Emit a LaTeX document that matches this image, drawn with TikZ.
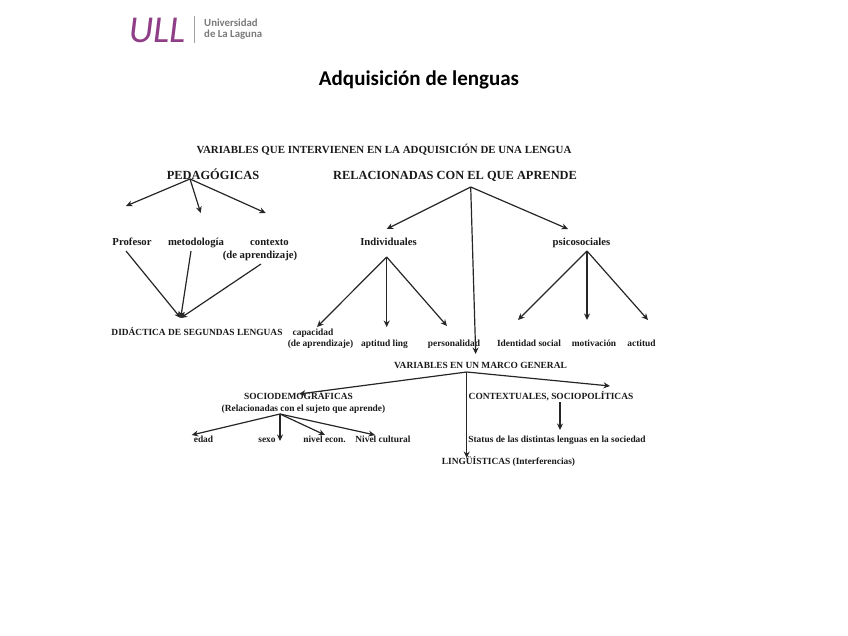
\documentclass[tikz,border=0pt]{standalone}
\usepackage{fontspec}
\setmainfont{Liberation Serif}
\newfontfamily\logofont{Carlito}
\usetikzlibrary{arrows.meta}
\definecolor{ullcolor}{HTML}{8E3F87}
\definecolor{greytext}{HTML}{7A7A7A}

\begin{document}
\begin{tikzpicture}[
    x=1pt, y=-1pt,
    word/.style={inner sep=0pt, text height=8.5pt, text depth=2pt, font=\fontsize{9.4}{11}\selectfont\bfseries, text=black!90},
    bigword/.style={word, font=\fontsize{10.7}{12}\selectfont\bfseries},
    head/.style={inner sep=0pt, text height=10pt, text depth=2pt, font=\fontsize{12.4}{14}\selectfont\bfseries, text=black!90},
    arrow/.style={-{Stealth[length=6.5pt, width=6pt]}, line width=1.2pt, draw=black!85},
]
\useasboundingbox (0,0) rectangle (848,636);

% Logo and title
\node[inner sep=0pt, text=ullcolor, font=\logofont\itshape\fontsize{38}{38}\selectfont] (logo) at (157,30) {ULL};
\node[inner sep=0pt, minimum width=0.8pt, minimum height=27pt, fill=greytext!70] (logobar) at (194.5,30) {};
\node[inner sep=0pt, anchor=west, text=greytext, font=\logofont\bfseries\fontsize{10.8}{11}\selectfont] (uni) at (204,23) {Universidad};
\node[inner sep=0pt, anchor=west, text=greytext, font=\logofont\bfseries\fontsize{10.8}{11}\selectfont] (laguna) at (204,35) {de La Laguna};
\node[inner sep=0pt, font=\logofont\bfseries\fontsize{21}{21}\selectfont] (title) at (419,80) {Adquisición de lenguas};

% Top level
\node[head] (variables) at (384,150) {\fontsize{10.9}{12}\selectfont VARIABLES QUE INTERVIENEN EN LA ADQUISICIÓN DE UNA LENGUA};
\node[head] (pedagogicas) at (213,176) {PEDAGÓGICAS};
\node[head] (relacionadas) at (455,176) {RELACIONADAS CON EL QUE APRENDE};

% Pedagogicas
\node[bigword] (profesor) at (132,242) {Profesor};
\node[bigword] (metodologia) at (196,242) {metodología};
\node[bigword] (contexto) at (269.5,242) {contexto};
\node[bigword] (aprendizaje) at (260,255) {(de aprendizaje)};
\node[word] (didactica) at (197,332) {DIDÁCTICA DE SEGUNDAS LENGUAS};

% Relacionadas
\node[bigword] (individuales) at (388.5,242) {Individuales};
\node[bigword] (psicosociales) at (581.5,242) {psicosociales};
\node[word] (capacidad) at (313,332) {capacidad};
\node[word] (aprendizajeb) at (320.5,343) {(de aprendizaje)};
\node[word] (aptitud) at (384.5,343) {aptitud ling};
\node[word] (personalidad) at (454,343) {personalidad};
\node[word] (identidad) at (529,343) {Identidad social};
\node[word] (motivacion) at (594,343) {motivación};
\node[word] (actitud) at (641.5,343) {actitud};

% Marco general
\node[word] (marco) at (480.5,365) {VARIABLES EN UN MARCO GENERAL};
\node[word] (socio) at (298.5,396) {SOCIODEMOGRÁFICAS};
\node[word] (relsujeto) at (303.5,408) {(Relacionadas con el sujeto que aprende)};
\node[word] (edad) at (203.5,439) {edad};
\node[word] (sexo) at (267,439) {sexo};
\node[word] (nivelecon) at (324.5,439) {nivel econ.};
\node[word] (nivelcult) at (383,439) {Nivel cultural};
\node[word] (contextuales) at (551,396) {CONTEXTUALES, SOCIOPOLÍTICAS};
\node[word] (status) at (557,439) {Status de las distintas lenguas en la sociedad};
\node[word] (linguisticas) at (508.5,461) {LINGÜÍSTICAS (Interferencias)};

% Branch points
\coordinate (pedtop) at (190,179);
\coordinate (pedleft) at (126,206);
\coordinate (pedmid) at (200.7,213);
\coordinate (pedright) at (265.7,213);
\coordinate (didtop) at (180.7,318);
\coordinate (proffoot) at (126,251);
\coordinate (metfoot) at (191,251);
\coordinate (confoot) at (261,264);
\coordinate (reltop) at (470.7,187);
\coordinate (relleft) at (386.7,229);
\coordinate (relmid) at (475.7,354);
\coordinate (relright) at (568,229);
\coordinate (indtop) at (386.7,257);
\coordinate (indleft) at (317,327);
\coordinate (indmid) at (386.7,327);
\coordinate (indright) at (447,326);
\coordinate (psitop) at (587,251);
\coordinate (psileft) at (518,320);
\coordinate (psimid) at (587,320);
\coordinate (psiright) at (648,320);
\coordinate (martop) at (466.7,372);
\coordinate (marleft) at (299,394);
\coordinate (marmid) at (466.7,458);
\coordinate (marright) at (610,386);
\coordinate (contop) at (560,402);
\coordinate (conend) at (560,430);
\coordinate (soctop) at (280,414);
\coordinate (socedad) at (191.7,435);
\coordinate (socsexo) at (280,441);
\coordinate (socecon) at (325,435);
\coordinate (soccult) at (375,435);

% Arrows
\draw[arrow] (pedtop) -- (pedleft);
\draw[arrow] (pedtop) -- (pedmid);
\draw[arrow] (pedtop) -- (pedright);
\draw[arrow] (proffoot) -- (didtop);
\draw[arrow] (metfoot) -- (didtop);
\draw[arrow] (confoot) -- (didtop);
\draw[arrow] (reltop) -- (relleft);
\draw[arrow] (reltop) -- (relmid);
\draw[arrow] (reltop) -- (relright);
\draw[arrow] (indtop) -- (indleft);
\draw[arrow] (indtop) -- (indmid);
\draw[arrow] (indtop) -- (indright);
\draw[arrow] (psitop) -- (psileft);
\draw[arrow] (psitop) -- (psimid);
\draw[arrow] (psitop) -- (psiright);
\draw[arrow] (martop) -- (marleft);
\draw[arrow] (martop) -- (marmid);
\draw[arrow] (martop) -- (marright);
\draw[arrow] (contop) -- (conend);
\draw[arrow] (soctop) -- (socedad);
\draw[arrow] (soctop) -- (socsexo);
\draw[arrow] (soctop) -- (socecon);
\draw[arrow] (soctop) -- (soccult);

\end{tikzpicture}
\end{document}
